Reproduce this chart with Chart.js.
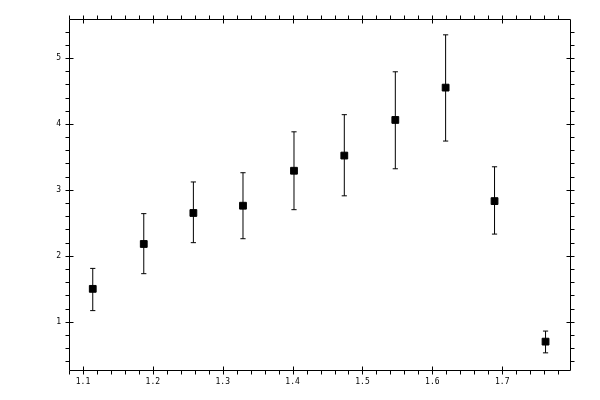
<!DOCTYPE html>
<html>
<head>
<meta charset="utf-8">
<script src="https://cdn.jsdelivr.net/npm/chart.js@4.4.1/dist/chart.umd.min.js"></script>
<style>
  html, body { margin: 0; padding: 0; background: #fff; }
  #wrap { width: 600px; height: 400px; }
</style>
</head>
<body>
<div id="wrap"><canvas id="chart"></canvas></div>
<script>
// values
const xValues = [1.114, 1.187, 1.258, 1.329, 1.402, 1.474, 1.547, 1.619, 1.689, 1.762];
const yValues = [1.50, 2.18, 2.65, 2.76, 3.29, 3.52, 4.06, 4.55, 2.83, 0.70];
const yLow    = [1.17, 1.73, 2.20, 2.26, 2.70, 2.91, 3.32, 3.74, 2.33, 0.53];
const yHigh   = [1.81, 2.64, 3.12, 3.26, 3.88, 4.14, 4.79, 5.35, 3.35, 0.86];

// axis ranges and tick steps
const xRange = [1.08, 1.797];
const yRange = [0.27, 5.59];
const xMinorStep = 0.02, xMajorStep = 0.1;
const yMinorStep = 0.2, yMajorStep = 1;

function isMajor(v, step) {
    const r = v / step;
    return Math.abs(r - Math.round(r)) < 1e-6;
}

const points = xValues.map((x, i) => ({ x: x, y: yValues[i] }));

// error bars: low, high, gap for each point
const barPoints = [];
xValues.forEach((x, i) => {
    barPoints.push({ x: x, y: yLow[i] }, { x: x, y: yHigh[i] }, { x: x, y: null });
});

// frame and tick marks on all four sides
const frameTicks = {
    id: 'frameTicks',
    afterDraw(chart) {
        const ctx = chart.ctx;
        const a = chart.chartArea;
        const xs = chart.scales.x;
        const ys = chart.scales.y;
        const L = a.left + 0.5, R = a.right + 0.5, T = a.top + 0.5, B = a.bottom + 0.5;
        ctx.save();
        ctx.strokeStyle = '#000';
        ctx.lineWidth = 1;
        ctx.beginPath();
        ctx.rect(L, T, R - L, B - T);
        xs.ticks.forEach(t => {
            const px = Math.round(xs.getPixelForValue(t.value)) + 0.5;
            if (isMajor(t.value, xMajorStep)) {
                ctx.moveTo(px, B - 4); ctx.lineTo(px, B + 4);
                ctx.moveTo(px, T - 4); ctx.lineTo(px, T + 4);
            } else {
                ctx.moveTo(px, B); ctx.lineTo(px, B + 4);
                ctx.moveTo(px, T); ctx.lineTo(px, T - 4);
            }
        });
        ys.ticks.forEach(t => {
            const py = Math.round(ys.getPixelForValue(t.value)) + 0.5;
            if (isMajor(t.value, yMajorStep)) {
                ctx.moveTo(L - 4, py); ctx.lineTo(L + 4, py);
                ctx.moveTo(R - 4, py); ctx.lineTo(R + 4, py);
            } else {
                ctx.moveTo(L, py); ctx.lineTo(L - 4, py);
                ctx.moveTo(R, py); ctx.lineTo(R + 4, py);
            }
        });
        ctx.stroke();
        ctx.restore();
    }
};

const tickFont = { family: 'DejaVu Sans Mono', size: 8 };

new Chart(document.getElementById('chart'), {
    type: 'scatter',
    data: {
        datasets: [
            {
                data: points,
                pointStyle: 'rect',
                pointRadius: 4.8,
                pointHoverRadius: 4.8,
                backgroundColor: '#000',
                borderColor: '#000',
                borderWidth: 1
            },
            {
                type: 'line',
                data: barPoints,
                showLine: true,
                spanGaps: false,
                borderColor: '#000',
                borderWidth: 1,
                pointStyle: 'line',
                pointRadius: 2.6,
                pointHoverRadius: 2.6,
                pointBorderColor: '#000',
                pointBorderWidth: 1
            }
        ]
    },
    options: {
        responsive: true,
        maintainAspectRatio: false,
        devicePixelRatio: 1,
        animation: false,
        layout: { padding: { top: 19, right: 30, left: 0, bottom: 0 } },
        plugins: {
            legend: { display: false },
            tooltip: { enabled: false }
        },
        scales: {
            x: {
                type: 'linear',
                min: xRange[0],
                max: xRange[1],
                grid: { display: false, drawTicks: false },
                border: { display: false },
                afterFit(scale) { scale.height = 30; },
                ticks: {
                    stepSize: xMinorStep,
                    includeBounds: false,
                    autoSkip: false,
                    maxRotation: 0,
                    padding: 7,
                    color: '#000',
                    font: tickFont,
                    callback: v => isMajor(v, xMajorStep) ? v.toFixed(1) : ''
                }
            },
            y: {
                type: 'linear',
                min: yRange[0],
                max: yRange[1],
                grid: { display: false, drawTicks: false },
                border: { display: false },
                afterFit(scale) { scale.width = 69; },
                ticks: {
                    stepSize: yMinorStep,
                    includeBounds: false,
                    autoSkip: false,
                    padding: 8,
                    color: '#000',
                    font: tickFont,
                    callback: v => isMajor(v, yMajorStep) ? String(Math.round(v)) : ''
                }
            }
        }
    },
    plugins: [frameTicks]
});
</script>
</body>
</html>
